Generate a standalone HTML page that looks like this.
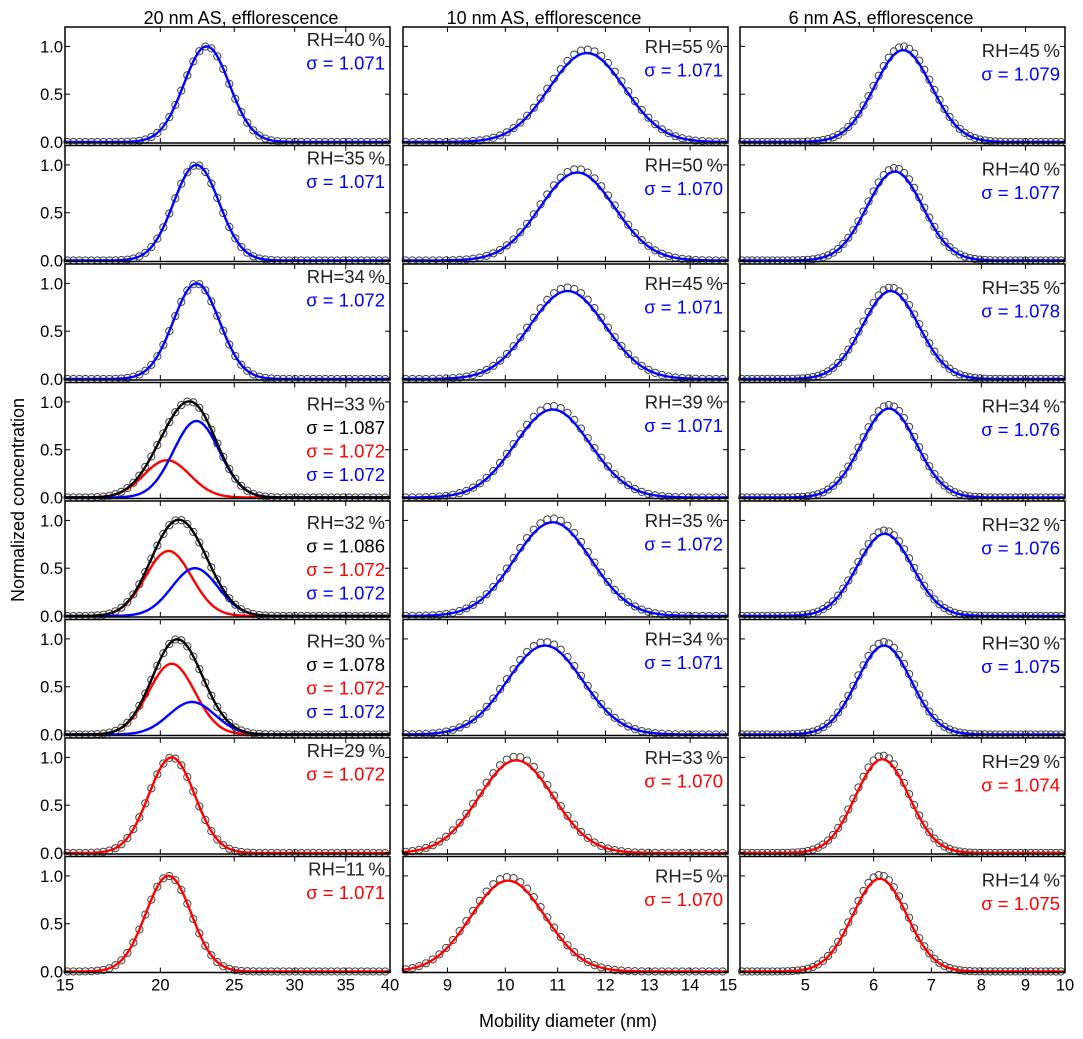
<!DOCTYPE html>
<html><head><meta charset="utf-8"><style>
html,body{margin:0;padding:0;background:#fff;}
svg{display:block;font-family:"Liberation Sans",Arial,sans-serif;}
</style></head><body>
<svg id="chart" width="1083" height="1039" viewBox="0 0 1083 1039" xmlns="http://www.w3.org/2000/svg">
<text x="241" y="24" font-size="18" text-anchor="middle">20 nm AS, efflorescence</text>
<text x="544" y="24" font-size="18" text-anchor="middle">10 nm AS, efflorescence</text>
<text x="881" y="24" font-size="18" text-anchor="middle">6 nm AS, efflorescence</text>
<text x="0" y="0" font-size="18" text-anchor="middle" transform="translate(24,500) rotate(-90)">Normalized concentration</text>
<text x="568" y="1027" font-size="18" text-anchor="middle">Mobility diameter (nm)</text>
<g id="panels"></g>
</svg>
<script>
// ---- data (fit parameters) ----
const col1RH = ["40","35","34","33","32","30","29","11"];
const col1Mode = [23.0,22.3,22.3,21.8,21.2,21.0,20.7,20.5];
const col1Sigma = ["1.071","1.071","1.072","1.087","1.086","1.078","1.072","1.071"];
const col1RedMode = [null,null,null,20.4,20.5,20.7,20.7,20.5];
const col1RedAmp = [0,0,0,0.39,0.68,0.74,1.0,1.0];
const col1BlueMode = [23.0,22.3,22.3,22.3,22.2,22.0,null,null];
const col1BlueAmp = [1.0,1.0,1.0,0.80,0.50,0.34,0,0];
const col1SubSigma = ["1.071","1.071","1.072","1.072","1.072","1.072","1.072","1.071"];
const col2RH = ["55","50","45","39","35","34","33","5"];
const col2Mode = [11.6,11.4,11.2,10.9,10.9,10.75,10.2,10.05];
const col2Sigma = ["1.071","1.070","1.071","1.071","1.072","1.071","1.070","1.070"];
const col2Amp = [0.93,0.92,0.92,0.92,0.98,0.93,0.97,0.95];
const col3RH = ["45","40","35","34","32","30","29","14"];
const col3Mode = [6.49,6.35,6.28,6.25,6.18,6.17,6.14,6.10];
const col3Sigma = ["1.079","1.077","1.078","1.076","1.076","1.075","1.074","1.075"];
const col3Amp = [0.96,0.93,0.92,0.93,0.86,0.93,0.98,0.97];
const col1Ticks = [15,20,25,30,35,40];
const col2Ticks = [9,10,11,12,13,14,15];
const col3Ticks = [5,6,7,8,9,10];
const yTicks = [0,0.5,1.0];
const yTickLabels = ["0.0","0.5","1.0"];

const NS="http://www.w3.org/2000/svg";
const root=document.getElementById('panels');
const cols=[
 {x0:65,x1:390,dmin:15,dmax:40,ticks:col1Ticks,n:54,textY:13},
 {x0:403,x1:728,dmin:8.3,dmax:15,ticks:col2Ticks,n:48,textY:20},
 {x0:740,x1:1065,dmin:4.2,dmax:10,ticks:col3Ticks,n:64,textY:24}
];
const TOP=27, STEP=118.5, H=116;
function mk(tag,attrs,parent){const e=document.createElementNS(NS,tag);for(const k in attrs)e.setAttribute(k,attrs[k]);parent.appendChild(e);return e;}
function gauss(d,m,s,a){const z=Math.log(d/m)/Math.log(parseFloat(s));return a*Math.exp(-0.5*z*z);}

for(let c=0;c<3;c++){
 const C=cols[c];
 const xs=d=>C.x0+(C.x1-C.x0)*Math.log(d/C.dmin)/Math.log(C.dmax/C.dmin);
 for(let r=0;r<8;r++){
  const top=TOP+r*STEP;
  const ys=v=>top+115-v*95.6;
  const g=mk('g',{},root);
  
  
  let fits=[];
  if(c===0){
   const bm=col1BlueMode[r], rm=col1RedMode[r];
   const s=col1SubSigma[r];
   const blue=d=>bm?gauss(d,bm,s,col1BlueAmp[r]):0;
   const red=d=>rm?gauss(d,rm,s,col1RedAmp[r]):0;
   if(bm&&rm){fits.push({f:red,col:'#ff0000',nm:'red-fit'});fits.push({f:blue,col:'#0000ff',nm:'blue-fit'});fits.push({f:d=>red(d)+blue(d),col:'#000000',nm:'total-fit'});}
   else if(bm) fits.push({f:blue,col:'#0000ff',nm:'blue-fit'});
   else fits.push({f:red,col:'#ff0000',nm:'red-fit'});
  } else {
   const M=c===1?col2Mode:col3Mode, S=c===1?col2Sigma:col3Sigma, A=c===1?col2Amp:col3Amp;
   const colr=r>=6?'#ff0000':'#0000ff';
   fits.push({f:d=>gauss(d,M[r],S[r],A[r]),col:colr,nm:r>=6?'red-fit':'blue-fit'});
  }
  const total=fits[fits.length-1].f;
  const ptScale=(c===0)?1:1.04;
  const pg=mk('g',{},g);
  
  
  for(let i=0;i<C.n;i++){
   const d=C.dmin*Math.pow(C.dmax/C.dmin,(i+0.4)/(C.n+0.2));
   const ci=mk('circle',{cx:xs(d),cy:ys(total(d)*ptScale),r:3.6,fill:'none',stroke:'#444','stroke-width':1},pg);
   
   
  }
  for(const F of fits){
   let p='';
   for(let i=0;i<=300;i++){const d=C.dmin*Math.pow(C.dmax/C.dmin,i/300);p+=(i?'L':'M')+xs(d).toFixed(1)+','+ys(F.f(d)).toFixed(1);}
   const pe=mk('path',{d:p,fill:'none',stroke:F.col,'stroke-width':2.4},g);
   
   
  }
  const fr=mk('rect',{x:C.x0,y:top,width:C.x1-C.x0,height:H,fill:'none',stroke:'#000','stroke-width':1.5},g);
  
  
  for(const t of C.ticks){
   const x=xs(t);
   mk('line',{x1:x,x2:x,y1:top+H,y2:top+H-5,stroke:'#000','stroke-width':1},g);
   mk('line',{x1:x,x2:x,y1:top,y2:top+5,stroke:'#000','stroke-width':1},g);
   if(r===7){const tl=mk('text',{x:x,y:top+H+18,'font-size':16.5,'text-anchor':'middle'},g);tl.textContent=t;
    
    }
  }
  yTicks.forEach((v,k)=>{
   const y=ys(v);
   mk('line',{x1:C.x0,x2:C.x0+5,y1:y,y2:y,stroke:'#000','stroke-width':1},g);
   mk('line',{x1:C.x1,x2:C.x1-5,y1:y,y2:y,stroke:'#000','stroke-width':1},g);
   if(c===0){const tl=mk('text',{x:C.x0-2,y:y+6,'font-size':16.5,'text-anchor':'end'},g);tl.textContent=yTickLabels[k];
    
    }
  });
  const rh=(c===0?col1RH:c===1?col2RH:col3RH)[r];
  const lines=[{t:'RH='+rh+'\u2009%',col:'#222'}];
  if(c===0){
   if(col1BlueMode[r]&&col1RedMode[r]){
    lines.push({t:'\u03c3 = '+col1Sigma[r],col:'#000'});
    lines.push({t:'\u03c3 = '+col1SubSigma[r],col:'#ff0000'});
    lines.push({t:'\u03c3 = '+col1SubSigma[r],col:'#0000ff'});
   } else lines.push({t:'\u03c3 = '+col1Sigma[r],col:col1BlueMode[r]?'#0000ff':'#ff0000'});
  } else lines.push({t:'\u03c3 = '+(c===1?col2Sigma:col3Sigma)[r],col:r>=6?'#ff0000':'#0000ff'});
  const ty=top+(lines.length>2?22:C.textY)+6;
  lines.forEach((L,k)=>{
   const te=mk('text',{x:C.x1-5,y:ty+k*23.5,'font-size':18.5,'text-anchor':'end',fill:L.col},g);
   te.textContent=L.t;
   
   
  });
 }
}
</script>
</body></html>
